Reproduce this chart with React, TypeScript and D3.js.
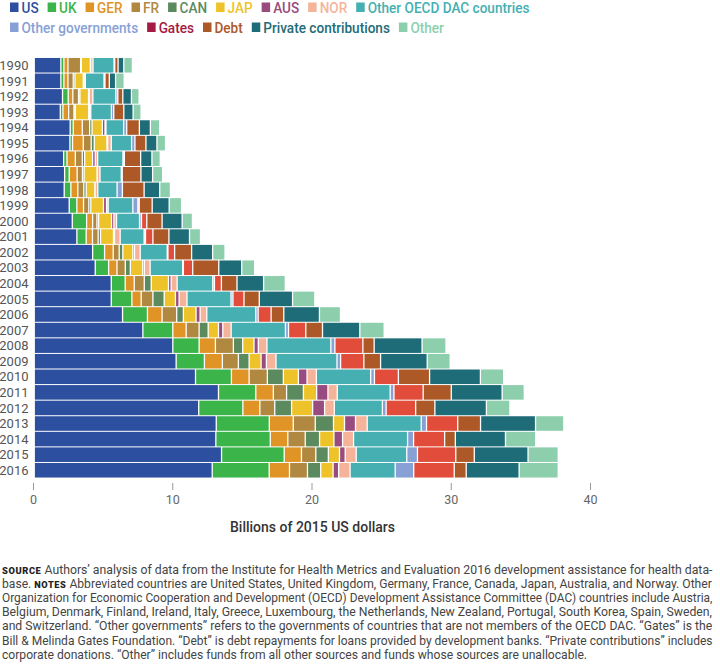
import React from 'react';
import * as d3 from 'd3';

// ---------- DATA (billions of 2015 US dollars) ----------
const years = ['1990','1991','1992','1993','1994','1995','1996','1997','1998','1999','2000','2001','2002','2003','2004','2005','2006','2007','2008','2009','2010','2011','2012','2013','2014','2015','2016'];

const US = [1.91,1.91,2.03,1.87,2.58,2.56,2.11,2.18,2.15,2.51,2.73,3.06,4.19,4.38,5.53,5.53,6.34,7.80,9.95,10.19,11.58,13.23,11.81,13.07,13.04,13.45,12.78];
const UK = [0.22,0.22,0.41,0.19,0.22,0.19,0.24,0.33,0.48,0.55,1.03,0.67,0.86,0.96,1.00,1.48,1.79,2.15,1.89,2.03,2.58,2.68,3.17,3.81,3.91,4.50,4.09];
const GER = [0.29,0.29,0.33,0.41,0.65,0.77,0.60,0.57,0.50,0.48,0.43,0.45,0.62,0.60,0.65,0.67,1.05,0.96,1.17,1.29,1.27,1.26,1.22,1.72,1.26,1.24,1.46];
const FR = [0.91,0.38,0.41,0.38,0.53,0.57,0.50,0.38,0.43,0.38,0.31,0.41,0.43,0.60,0.72,0.84,1.05,0.93,1.29,1.15,1.31,0.95,1.07,1.58,1.25,1.03,1.29];
const CAN = [0.05,0.12,0.10,0.10,0.17,0.22,0.17,0.12,0.17,0.14,0.12,0.17,0.26,0.36,0.50,0.81,0.48,0.65,0.67,0.77,1.15,1.21,1.21,1.31,1.03,0.90,0.95];
const JAP = [0.65,0.60,0.62,0.96,0.74,0.91,0.57,0.93,0.62,0.91,0.93,0.93,0.72,0.89,1.24,0.81,0.91,0.74,0.81,0.86,1.08,0.95,1.51,0.79,1.03,0.80,0.89];
const AUS = [0.02,0.05,0.05,0.05,0.19,0.05,0.19,0.02,0.02,0.22,0.17,0.07,0.12,0.12,0.19,0.26,0.29,0.31,0.31,0.38,0.62,0.81,0.86,0.79,0.62,0.41,0.40];
const NOR = [0.17,0.10,0.26,0.10,0.07,0.26,0.17,0.19,0.19,0.12,0.19,0.41,0.41,0.41,0.43,0.57,0.48,0.60,0.62,0.69,0.67,0.67,0.70,0.84,0.79,0.79,0.82];
const OTHER_OECD = [1.51,1.34,1.65,1.48,1.27,1.46,1.82,1.53,1.39,1.77,1.65,1.72,1.94,2.34,2.56,3.16,3.52,3.90,4.59,4.38,3.90,3.80,3.45,3.88,3.88,3.63,3.24];
const OTHER_GOV = [0.05,0.07,0.14,0.17,0.22,0.24,0.10,0.07,0.38,0.36,0.14,0.10,0.05,0.05,0.12,0.14,0.17,0.22,0.29,0.26,0.27,0.27,0.27,0.38,0.43,0.77,1.33];
const GATES = [0,0,0,0,0,0,0,0,0,0.10,0.38,0.53,0.48,0.67,0.50,0.79,0.93,1.24,2.01,1.67,1.72,2.10,2.12,2.24,2.23,2.75,2.91];
const DEBT = [0.24,0.31,0.36,0.72,0.91,0.79,1.17,1.34,1.56,0.93,1.10,1.15,1.22,1.87,1.12,1.10,0.91,1.20,0.81,1.20,2.24,2.02,1.38,1.64,0.77,1.33,0.86];
const PRIVATE = [0.41,0.45,0.62,0.67,0.79,0.79,0.81,0.84,1.12,1.22,1.44,1.48,1.51,1.65,1.91,2.39,2.56,2.68,3.44,3.35,3.65,3.65,3.70,3.95,3.60,3.86,3.80];
const OTHER = [0.62,0.62,0.55,0.57,0.67,0.62,0.60,0.72,0.77,0.89,0.74,0.79,0.89,0.93,1.56,1.60,1.51,1.75,1.72,1.65,1.67,1.59,1.69,2.03,2.17,2.17,2.81];

const seriesKeys = ['US','UK','GER','FR','CAN','JAP','AUS','NOR','Other OECD DAC countries','Other governments','Gates','Debt','Private contributions','Other'];
const seriesValues = [US, UK, GER, FR, CAN, JAP, AUS, NOR, OTHER_OECD, OTHER_GOV, GATES, DEBT, PRIVATE, OTHER];
const barColors = ['#2c4fa0','#3bb54a','#e09426','#b0883f','#5c8a5f','#eec32a','#984b7e','#f5b49a','#45afb2','#87a1d6','#e24c3a','#ad5927','#1e6c78','#8dcfad'];
const legendColors = ['#2c4fa0','#3bb54a','#e09426','#b0883f','#5c8a5f','#eec32a','#984b7e','#f5b49a','#45afb2','#87a1d6','#a51a44','#ad5927','#1e6c78','#8dcfad'];
const legendRows = [[0,1,2,3,4,5,6,7,8],[9,10,11,12,13]];

const xTicks = [0, 10, 20, 30, 40];
const xTitle = 'Billions of 2015 US dollars';

const noteLines: { lead?: string; text: string; mid?: string; tail?: string; justify: boolean }[] = [
  { lead: 'SOURCE', text: ' Authors\u2019 analysis of data from the Institute for Health Metrics and Evaluation 2016 development assistance for health data-', justify: true },
  { text: 'base. ', mid: 'NOTES', tail: ' Abbreviated countries are United States, United Kingdom, Germany, France, Canada, Japan, Australia, and Norway. Other', justify: true },
  { text: 'Organization for Economic Cooperation and Development (OECD) Development Assistance Committee (DAC) countries include Austria,', justify: true },
  { text: 'Belgium, Denmark, Finland, Ireland, Italy, Greece, Luxembourg, the Netherlands, New Zealand, Portugal, South Korea, Spain, Sweden,', justify: true },
  { text: 'and Switzerland. \u201cOther governments\u201d refers to the governments of countries that are not members of the OECD DAC. \u201cGates\u201d is the', justify: true },
  { text: 'Bill & Melinda Gates Foundation. \u201cDebt\u201d is debt repayments for loans provided by development banks. \u201cPrivate contributions\u201d includes', justify: true },
  { text: 'corporate donations. \u201cOther\u201d includes funds from all other sources and funds whose sources are unallocable.', justify: false },
];

// ---------- helpers ----------
const FONT = 'Roboto, "Noto Sans", sans-serif';
let _ctx: CanvasRenderingContext2D | null = null;
function textWidth(s: string, font: string): number {
  if (!_ctx) _ctx = document.createElement('canvas').getContext('2d');
  if (!_ctx) return s.length * 7;
  _ctx.font = font;
  return _ctx.measureText(s).width;
}

export default function App() {
  const W = 720, H = 669;
  const table = years.map((y, i) => {
    const row: any = { year: y };
    seriesKeys.forEach((k, j) => { row[k] = seriesValues[j][i]; });
    return row;
  });
  const stacked = d3.stack<any>().keys(seriesKeys)(table);

  const x = d3.scaleLinear().domain([0, 40]).range([34, 591]);
  const y = d3.scaleBand<string>().domain(years).range([57.5, 478]).paddingInner(0.065).paddingOuter(0.03);

  // legend layout (flowed from measured text)
  const legendFontSize = 14;
  const legendFont = `500 ${legendFontSize}px Roboto`;
  const legendItems: any[] = [];
  legendRows.forEach((row, r) => {
    let cx = 10;
    row.forEach((si) => {
      const w = textWidth(seriesKeys[si], legendFont) * 0.97;
      legendItems.push({ si, x: cx, row: r, w });
      cx += 11.5 + w + 9;
    });
  });

  // notes: each line horizontally scaled to fill the justified width
  const noteSize = 12.5;
  const noteFont = `400 ${noteSize}px Roboto`;
  const leadFont = `900 9.5px Roboto`;
  const leadSpacing = 0.6;
  const left = 2, right = 713;
  const naturals = noteLines.map((l) => {
    let w = textWidth(l.text, noteFont);
    if (l.lead) w += textWidth(l.lead, leadFont) + leadSpacing * l.lead.length;
    if (l.mid) w += textWidth(l.mid, leadFont) + leadSpacing * l.mid.length;
    if (l.tail) w += textWidth(l.tail, noteFont);
    return w;
  });
  const ratios = noteLines.map((l, i) => (l.justify ? (right - left) / naturals[i] : NaN)).filter((v) => !isNaN(v));
  const meanRatio = d3.mean(ratios) || 1;

  return (
    <svg width={W} height={H} style={{ position: 'absolute', left: 0, top: 0, background: '#fff' }} fontFamily={FONT}>
      {/* legend */}
      {legendItems.map((it, i) => {
        const base = it.row === 0 ? 12.5 : 32.5;
        return (
          <g key={'lg' + i}>
            <rect x={it.x} y={base - 10} width={8.5} height={9.5} fill={legendColors[it.si]} />
            <text x={it.x + 11.5} y={base} fontSize={legendFontSize} fontWeight={500} fill={legendColors[it.si]}
              textLength={it.w} lengthAdjust="spacingAndGlyphs">{seriesKeys[it.si]}</text>
          </g>
        );
      })}

      {/* bars */}
      {stacked.map((s, si) => (
        <g key={s.key} fill={barColors[si]}>
          {s.map((d: any, i: number) => {
            const x0 = x(d[0]), x1 = x(d[1]);
            const w = x1 - x0 - 1.3;
            if (w <= 0.05) return null;
            return <rect key={i} x={x0 + 0.9} y={y(years[i])} width={w} height={y.bandwidth()} />;
          })}
        </g>
      ))}

      {/* year labels */}
      {years.map((yr) => (
        <text key={yr} x={28.5} y={(y(yr) as number) + y.bandwidth() / 2} dy="0.36em" textAnchor="end"
          fontSize={13} fill="#555">{yr}</text>
      ))}

      {/* x axis ticks */}
      {xTicks.map((t) => (
        <g key={'t' + t}>
          <line x1={x(t) - 0.5} x2={x(t) - 0.5} y1={483} y2={490} stroke="#999" strokeWidth={1} />
          <text x={x(t) - 0.5} y={504} textAnchor="middle" fontSize={12.5} fill="#666">{t}</text>
        </g>
      ))}
      <text x={(x(0) + x(40)) / 2} y={532} textAnchor="middle" fontSize={14} fontWeight={500} fill="#333">{xTitle}</text>

      {/* notes */}
      {noteLines.map((l, i) => {
        const s = l.justify ? (right - left) / naturals[i] : meanRatio;
        return (
          <g key={'n' + i} transform={`translate(${left},${573.5 + i * 14.2}) scale(${s},1)`}>
            <text x={0} y={0} fontSize={noteSize} fill="#444">
              {l.lead && <tspan fontSize={9.5} fontWeight={900} letterSpacing={leadSpacing} fill="#222">{l.lead}</tspan>}
              <tspan>{l.text}</tspan>
              {l.mid && <tspan fontSize={9.5} fontWeight={900} letterSpacing={leadSpacing} fill="#222">{l.mid}</tspan>}
              {l.tail && <tspan>{l.tail}</tspan>}
            </text>
          </g>
        );
      })}
    </svg>
  );
}
